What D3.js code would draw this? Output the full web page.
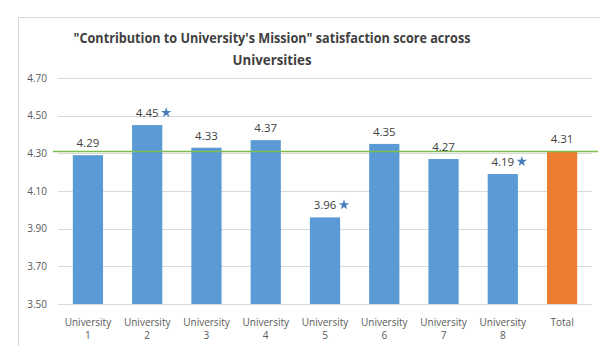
<!DOCTYPE html>
<html>
<head>
<meta charset="utf-8">
<script src="https://cdn.jsdelivr.net/npm/d3@7"></script>
<style>
  body { margin: 0; background: #fff; }
  text { font-family: "Open Sans", "Liberation Sans", sans-serif; }
</style>
</head>
<body>
<div id="wrapper"></div>
<script>
// data
const categories = ["University 1", "University 2", "University 3", "University 4",
  "University 5", "University 6", "University 7", "University 8", "Total"]
const scores = [4.29, 4.45, 4.33, 4.37, 3.96, 4.35, 4.27, 4.19, 4.31]
const starred = ["University 2", "University 5", "University 8"]
const yTicks = [3.5, 3.7, 3.9, 4.1, 4.3, 4.5, 4.7]
const referenceValue = 4.31

const dimensions = {
  width: 600,
  height: 346,
  margin: { top: 78, right: 8, bottom: 42, left: 58 },
}
dimensions.boundedWidth = dimensions.width - dimensions.margin.left - dimensions.margin.right
dimensions.boundedHeight = dimensions.height - dimensions.margin.top - dimensions.margin.bottom

const svg = d3.select("#wrapper").append("svg")
    .attr("width", dimensions.width)
    .attr("height", dimensions.height)

// chart frame
svg.append("rect")
    .attr("x", 18.5).attr("y", 17.5)
    .attr("width", 620).attr("height", 360)
    .attr("fill", "none")
    .attr("stroke", "#d9d9d9")

svg.append("text")
    .attr("x", 272).attr("y", 43)
    .attr("text-anchor", "middle")
    .attr("font-size", 14).attr("font-weight", "bold")
    .attr("fill", "#404040")
    .attr("textLength", 397).attr("lengthAdjust", "spacingAndGlyphs")
    .text("\"Contribution to University's Mission\" satisfaction score across")
svg.append("text")
    .attr("x", 272).attr("y", 65)
    .attr("text-anchor", "middle")
    .attr("font-size", 14).attr("font-weight", "bold")
    .attr("fill", "#404040")
    .attr("textLength", 79).attr("lengthAdjust", "spacingAndGlyphs")
    .text("Universities")

const bounds = svg.append("g")
    .attr("transform", `translate(${dimensions.margin.left}, ${dimensions.margin.top})`)

const xScale = d3.scaleBand()
    .domain(categories)
    .range([0, dimensions.boundedWidth])
    .paddingInner(0.49)
    .paddingOuter(0.25)

const yScale = d3.scaleLinear()
    .domain([3.5, 4.7])
    .range([dimensions.boundedHeight, 0])

// grid
bounds.selectAll(".grid")
    .data(yTicks)
  .enter().append("line")
    .attr("x1", 0).attr("x2", dimensions.boundedWidth)
    .attr("y1", d => Math.round(yScale(d)) + 0.5)
    .attr("y2", d => Math.round(yScale(d)) + 0.5)
    .attr("stroke", "#d9d9d9")

const yAxis = bounds.append("g")
    .call(d3.axisLeft(yScale).tickValues(yTicks).tickFormat(d3.format(".2f")).tickSize(0).tickPadding(11))
yAxis.select(".domain").remove()
yAxis.selectAll("text").attr("font-size", 10).attr("fill", "#595959")
    .style("font-family", "'Open Sans', sans-serif")

// bars
bounds.selectAll(".bar")
    .data(categories)
  .enter().append("rect")
    .attr("x", d => xScale(d))
    .attr("width", xScale.bandwidth())
    .attr("y", (d, i) => yScale(scores[i]))
    .attr("height", (d, i) => dimensions.boundedHeight - yScale(scores[i]))
    .attr("fill", d => d == "Total" ? "#ED7D31" : "#5B9BD5")

// reference line
bounds.append("line")
    .attr("x1", -5).attr("x2", dimensions.boundedWidth + 6)
    .attr("y1", yScale(referenceValue)).attr("y2", yScale(referenceValue))
    .attr("stroke", "#7CBF4E").attr("stroke-width", 1.4)

// value labels
bounds.selectAll(".value")
    .data(categories)
  .enter().append("text")
    .attr("x", d => xScale(d) + xScale.bandwidth() / 2)
    .attr("y", (d, i) => yScale(scores[i]) - 8)
    .attr("text-anchor", "middle")
    .attr("font-size", 11.5)
    .attr("fill", "#404040")
    .text((d, i) => scores[i].toFixed(2))

const star = d3.symbol().type(d3.symbolStar).size(34)
bounds.selectAll(".star")
    .data(categories.filter(d => starred.includes(d)))
  .enter().append("path")
    .attr("d", star)
    .attr("fill", "#4A7EBB")
    .attr("transform", d => {
      const i = categories.indexOf(d)
      return `translate(${xScale(d) + xScale.bandwidth() / 2 + 19}, ${yScale(scores[i]) - 12.5})`
    })

// category labels
const xLabels = bounds.selectAll(".xlabel")
    .data(categories)
  .enter().append("text")
    .attr("text-anchor", "middle")
    .attr("font-size", 10)
    .attr("fill", "#595959")
    .attr("transform", d => `translate(${xScale(d) + xScale.bandwidth() / 2}, ${dimensions.boundedHeight + 22})`)
xLabels.each(function(d) {
  const words = d.split(" ")
  const el = d3.select(this)
  words.forEach((w, j) => {
    el.append("tspan").attr("x", 0).attr("dy", j == 0 ? 0 : 13).text(w)
  })
})
</script>
</body>
</html>
